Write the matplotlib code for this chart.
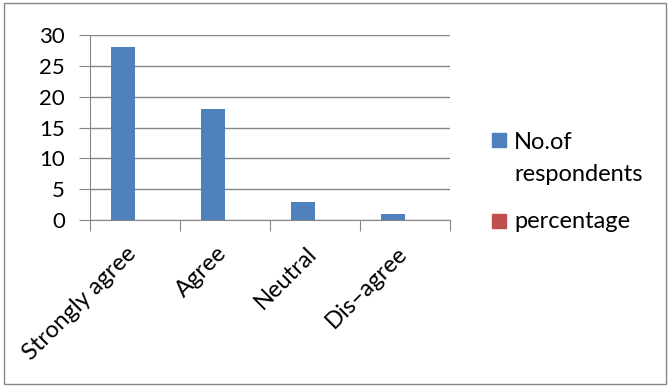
import numpy as np
import matplotlib
matplotlib.use("Agg")
import matplotlib.pyplot as plt
import matplotlib.transforms as mtransforms
from matplotlib.patches import Rectangle

categories = ["Strongly agree", "Agree", "Neutral", "Dis\u2013agree"]
respondents = [28, 18, 3, 1]
percentage = [0, 0, 0, 0]

BLUE = "#4F81BD"
RED = "#C0504D"
GRID = "#868686"

plt.rcParams["font.family"] = ["Lato", "DejaVu Sans"]
plt.rcParams["font.size"] = 16

W, H = 670, 387
fig = plt.figure(figsize=(W / 100, H / 100), dpi=100)
ax = fig.add_axes([0.134, 0.4315, 0.538, 0.478])

x = np.arange(len(categories))
w = 0.27
ax.bar(x - w / 2, respondents, w, color=BLUE, zorder=3)
ax.bar(x + w / 2, percentage, w, color=RED, zorder=3)

ax.set_xlim(-0.5, len(categories) - 0.5)
ax.set_ylim(0, 30)
ax.set_yticks(range(0, 31, 5))
ax.yaxis.grid(True, color=GRID, lw=1)
ax.set_axisbelow(True)

for s in ["top", "right"]:
    ax.spines[s].set_visible(False)
for s in ["left", "bottom"]:
    ax.spines[s].set_color(GRID)

# category ticks between groups, labels at group centers
ax.set_xticks(np.arange(-0.5, len(categories), 1.0))
ax.set_xticklabels([])
ax.set_xticks(x, minor=True)
ax.set_xticklabels(categories, minor=True, rotation=45, ha="right", va="top",
                   rotation_mode="anchor", fontsize=17)
ax.tick_params(axis="x", which="major", length=8, color=GRID, direction="out")
ax.tick_params(axis="x", which="minor", length=0, pad=12)
ax.tick_params(axis="y", length=8, color=GRID, pad=10)
shift = mtransforms.ScaledTranslation(-9 / 100, -6 / 100, fig.dpi_scale_trans)
for lab in ax.get_xticklabels(minor=True):
    lab.set_transform(lab.get_transform() + shift)

# legend drawn by hand: square aligned with first text line (Excel style)
def px(xp, yp):
    return xp / W, 1 - yp / H

sq = 14
for col, top in [(BLUE, 133), (RED, 214)]:
    x0, y0 = px(492, top + sq)
    fig.patches.append(Rectangle((x0, y0), sq / W, sq / H, transform=fig.transFigure,
                                 color=col))
for txt, base in [("No.of", 149), ("respondents", 181), ("percentage", 228)]:
    tx, ty = px(514, base)
    fig.text(tx, ty, txt, fontsize=17, ha="left", va="baseline")

fig.patches.append(Rectangle((0.006, 0.008), 0.988, 0.984, transform=fig.transFigure,
                             fill=False, edgecolor=GRID, lw=1))

fig.savefig("out.png", dpi=100)
